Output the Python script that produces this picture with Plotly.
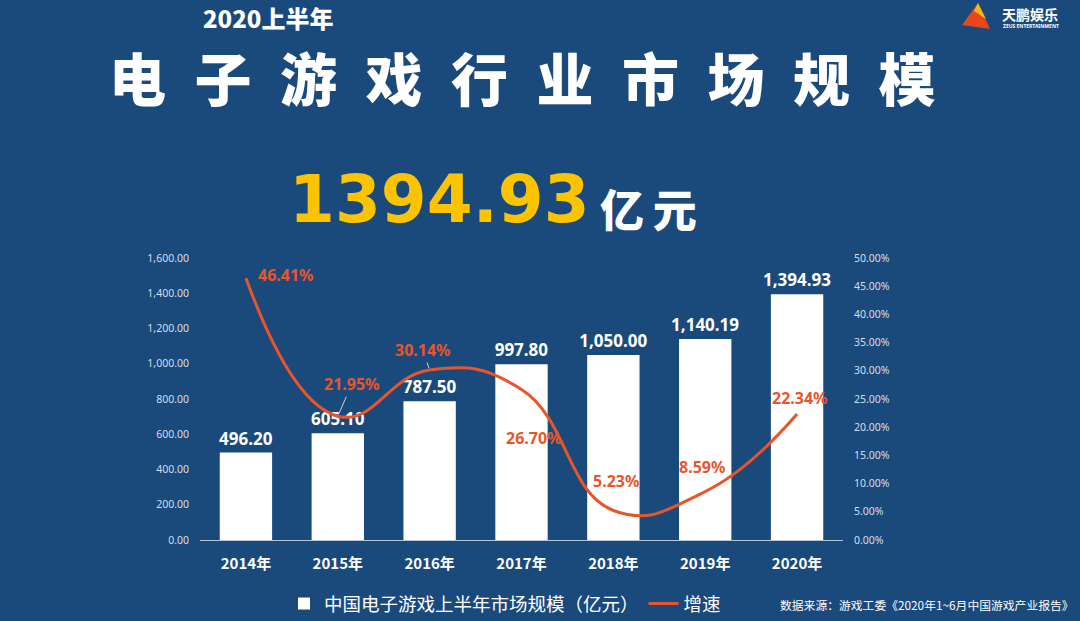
import plotly.graph_objects as go

years = ["2014年", "2015年", "2016年", "2017年", "2018年", "2019年", "2020年"]
market_size = [496.20, 605.10, 787.50, 997.80, 1050.00, 1140.19, 1394.93]
growth = [0.4641, 0.2195, 0.3014, 0.2670, 0.0523, 0.0859, 0.2234]
growth_labels = ["46.41%", "21.95%", "30.14%", "26.70%", "5.23%", "8.59%", "22.34%"]
left_ticks = [0, 200, 400, 600, 800, 1000, 1200, 1400, 1600]
right_ticks = [0, 0.05, 0.10, 0.15, 0.20, 0.25, 0.30, 0.35, 0.40, 0.45, 0.50]

BG = "#1a4a7b"
ORANGE = "#e8552a"
CJK = "Noto Sans CJK SC"

fig = go.Figure()
fig.add_trace(go.Bar(
    x=years, y=market_size, name="中国电子游戏上半年市场规模（亿元）",
    marker=dict(color="white", line=dict(width=0)),
    texttemplate="%{y:,.2f}", textposition="outside", cliponaxis=False,
    constraintext="none",
    textfont=dict(color="white", size=17, family="Noto Sans", weight="bold"),
))
fig.add_trace(go.Scatter(
    x=years, y=growth, name="增速", yaxis="y2", mode="lines",
    line=dict(color=ORANGE, width=3, shape="spline", smoothing=1.3),
))

# label offsets (pixels) for the growth labels
offsets = [(40, 3), (14, 32), (-7, 20), (12, -49), (3, 30), (-3, 25), (3, 16)]
leaders = [False, True, True, False, False, False, False]
annotations = []
for yr, g, lab, (dx, dy), lead in zip(years, growth, growth_labels, offsets, leaders):
    if lead:
        annotations.append(dict(
            x=yr, y=g, xref="x", yref="y2", text=lab, showarrow=True,
            arrowhead=0, arrowwidth=1, arrowcolor="#c9d3de", ax=dx, ay=-dy,
            font=dict(color=ORANGE, size=16, family="Noto Sans", weight="bold"),
            standoff=2,
        ))
    else:
        annotations.append(dict(
            x=yr, y=g, xref="x", yref="y2", text=lab, showarrow=False,
            xshift=dx, yshift=dy,
            font=dict(color=ORANGE, size=16, family="Noto Sans", weight="bold"),
        ))

annotations += [
    dict(x=268/1080, y=1-17/621, xref="paper", yref="paper", text="2020上半年",
         showarrow=False, font=dict(color="white", size=24, family=CJK, weight=900),
         xanchor="center", yanchor="middle"),
    dict(x=522/1080, y=1-76/621, xref="paper", yref="paper",
         text="\u2002".join("电子游戏行业市场规模"),
         showarrow=False, font=dict(color="white", size=57, family=CJK, weight=900),
         xanchor="center", yanchor="middle"),
    dict(x=592/1080, y=1-199/621, xref="paper", yref="paper", text="1394.93",
         showarrow=False, font=dict(color="#fbc300", size=66, family="DejaVu Sans", weight="bold"),
         xanchor="right", yanchor="middle"),
    dict(x=598/1080, y=1-208/621, xref="paper", yref="paper", text="亿\u2009元",
         showarrow=False, font=dict(color="white", size=44, family=CJK, weight=900),
         xanchor="left", yanchor="middle"),
    dict(x=1076/1080, y=1-604/621, xref="paper", yref="paper",
         text="数据来源：游戏工委《2020年1~6月中国游戏产业报告》",
         showarrow=False, font=dict(color="white", size=11.8, family=CJK),
         xanchor="right", yanchor="middle"),
    dict(x=1000/1080, y=1-14/621, xref="paper", yref="paper", text="天鹏娱乐",
         showarrow=False, font=dict(color="white", size=14, family=CJK, weight="bold"),
         xanchor="left", yanchor="middle"),
    dict(x=1001/1080, y=1-26/621, xref="paper", yref="paper", text="ZEUS ENTERTAINMENT",
         showarrow=False, font=dict(color="white", size=5, family="Noto Sans", weight="bold"),
         xanchor="left", yanchor="middle"),
]

shapes = [
    dict(type="path", xref="paper", yref="paper",
         path="M {} {} L {} {} L {} {} Z".format(
             962/1080, 1-25/621, 978/1080, 1-3/621, 990/1080, 1-29/621),
         fillcolor="#e8461e", line=dict(width=0)),
    dict(type="path", xref="paper", yref="paper",
         path="M {} {} L {} {} L {} {} Z".format(
             974/1080, 1-11/621, 978/1080, 1-3/621, 986/1080, 1-19/621),
         fillcolor="#f6b81a", line=dict(width=0)),
]

fig.update_layout(
    width=1080, height=621,
    paper_bgcolor=BG, plot_bgcolor=BG,
    margin=dict(l=0, r=0, t=0, b=0, autoexpand=False),
    bargap=0.43,
    showlegend=True,
    legend=dict(orientation="h", x=284/1080, y=1-604/621, xanchor="left", yanchor="middle",
                font=dict(color="white", size=18.5, family=CJK), bgcolor="rgba(0,0,0,0)",
                itemwidth=30, tracegroupgap=0),
    xaxis=dict(domain=[200/1080, 843/1080], type="category", showgrid=False,
               showline=True, linecolor="#b9c5d3", linewidth=1, ticks="",
               tickfont=dict(color="white", size=15, family=CJK, weight="bold"),
               ticklabelstandoff=10),
    yaxis=dict(domain=[1-540/621, 1-258/621], range=[0, 1600], tickvals=left_ticks,
               tickformat=",.2f", showgrid=False, zeroline=False, showline=False,
               tickfont=dict(color="#d5dee8", size=10.5, family="Noto Sans"),
               ticklabelstandoff=10),
    yaxis2=dict(overlaying="y", side="right", range=[0, 0.5], tickvals=right_ticks,
                tickformat=".2%", showgrid=False, zeroline=False, showline=False,
                tickfont=dict(color="#d5dee8", size=10.5, family="Noto Sans"),
                ticklabelstandoff=10),
    annotations=annotations,
    shapes=shapes,
)

fig.write_html("out.html", config={"displayModeBar": False},
               post_script="document.body.style.margin='0';document.body.style.overflow='hidden';")
